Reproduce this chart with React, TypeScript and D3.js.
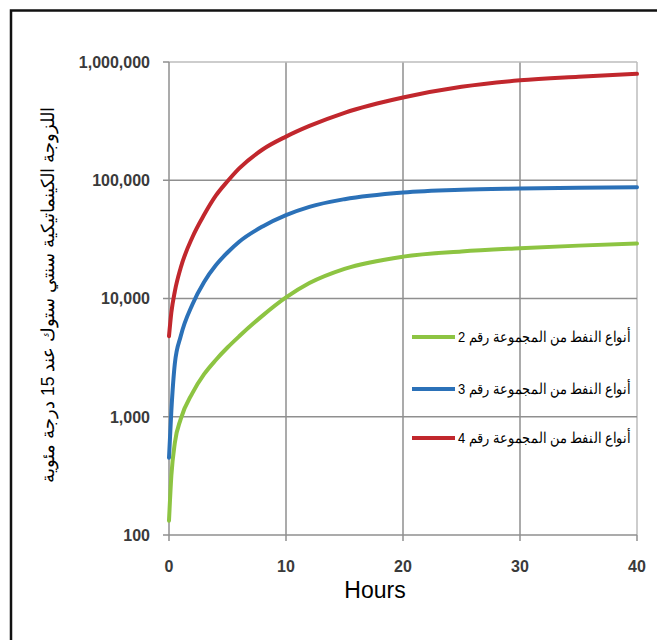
import React, { useEffect, useRef } from 'react'
import * as d3 from 'd3'

const hours = [0, 0.2, 0.5, 1, 2, 3, 4, 5, 6, 8, 10, 12, 15, 20, 25, 30, 35, 40]
const group2 = [132, 316, 603, 955, 1585, 2290, 3020, 3850, 4790, 7160, 10200, 13500, 17800, 22600, 25000, 26600, 28000, 29200]
const group3 = [450, 1120, 2820, 4790, 8910, 13800, 19100, 24500, 30200, 40700, 50700, 59600, 69200, 78900, 83200, 85100, 86500, 87100]
const group4 = [4800, 7600, 11500, 18200, 33000, 51000, 74000, 98000, 126000, 182000, 234000, 288000, 372000, 501000, 617000, 700000, 750000, 794000]

const seriesNames = [
  'أنواع النفط من المجموعة رقم 2',
  'أنواع النفط من المجموعة رقم 3',
  'أنواع النفط من المجموعة رقم 4'
]
const seriesColors = ['#8dc442', '#2b71b8', '#c1272d']

const xTicks = [0, 10, 20, 30, 40]
const yTicks = [100, 1000, 10000, 100000, 1000000]

const yTitle = 'اللزوجة الكينماتيكية سنتي ستوك عند 15 درجة مئوية'
const xTitle = 'Hours'

const width = 657
const height = 640

function App () {
  const ref = useRef<SVGSVGElement>(null)

  useEffect(() => {
    const svg = d3.select(ref.current)
    svg.selectAll('*').remove()

    const x = d3.scaleLinear().domain([0, 40]).range([169, 637])
    const y = d3.scaleLog().domain([100, 1000000]).range([535, 62])

    // frame (only top and left edges fall inside the picture)
    svg.append('rect')
      .attr('x', 11).attr('y', 10.5)
      .attr('width', 800).attr('height', 800)
      .attr('fill', 'none').attr('stroke', '#111').attr('stroke-width', 2.5)

    const g = svg.append('g')

    // grid
    g.selectAll('.vgrid').data(xTicks.slice(1))
      .enter().append('line')
      .attr('x1', d => x(d)).attr('x2', d => x(d))
      .attr('y1', y(1000000)).attr('y2', y(100))
      .attr('stroke', d => d === 40 ? '#bdbdbd' : '#8f8f8f').attr('stroke-width', 1.5)

    g.selectAll('.hgrid').data(yTicks.slice(1))
      .enter().append('line')
      .attr('x1', x(0)).attr('x2', x(40))
      .attr('y1', d => y(d)).attr('y2', d => y(d))
      .attr('stroke', d => d === 1000000 ? '#bdbdbd' : '#8f8f8f').attr('stroke-width', 1.5)

    // axes
    g.append('line')
      .attr('x1', x(0)).attr('x2', x(0)).attr('y1', y(1000000)).attr('y2', y(100))
      .attr('stroke', '#8f8f8f').attr('stroke-width', 1.5)
    g.append('line')
      .attr('x1', x(0)).attr('x2', x(40)).attr('y1', y(100)).attr('y2', y(100))
      .attr('stroke', '#8f8f8f').attr('stroke-width', 1.5)

    g.selectAll('.ytick').data(yTicks)
      .enter().append('line')
      .attr('x1', x(0) - 6).attr('x2', x(0))
      .attr('y1', d => y(d)).attr('y2', d => y(d))
      .attr('stroke', '#8f8f8f').attr('stroke-width', 1.5)

    g.selectAll('.xtick').data(xTicks)
      .enter().append('line')
      .attr('x1', d => x(d)).attr('x2', d => x(d))
      .attr('y1', y(100)).attr('y2', y(100) + 6)
      .attr('stroke', '#8f8f8f').attr('stroke-width', 1.5)

    const fmt = d3.format(',')
    g.selectAll('.ylab').data(yTicks)
      .enter().append('text')
      .attr('x', 150).attr('y', d => y(d))
      .attr('dy', '0.36em')
      .attr('text-anchor', 'end')
      .attr('font-family', 'Liberation Sans, Arial, sans-serif')
      .attr('font-weight', 'bold')
      .attr('font-size', 16)
      .attr('fill', '#3a3a3a')
      .text(d => fmt(d))

    g.selectAll('.xlab').data(xTicks)
      .enter().append('text')
      .attr('x', d => x(d)).attr('y', 572)
      .attr('text-anchor', 'middle')
      .attr('font-family', 'Liberation Sans, Arial, sans-serif')
      .attr('font-weight', 'bold')
      .attr('font-size', 16)
      .attr('fill', '#3a3a3a')
      .text(d => d)

    g.append('text')
      .attr('x', 375).attr('y', 598)
      .attr('text-anchor', 'middle')
      .attr('font-family', 'Liberation Sans, Arial, sans-serif')
      .attr('font-size', 23)
      .attr('fill', '#000')
      .text(xTitle)

    g.append('text')
      .attr('transform', 'translate(54,295) rotate(-90)')
      .attr('text-anchor', 'middle')
      .attr('font-family', 'Liberation Sans, Arial, sans-serif')
      .attr('font-size', 17.5)
      .attr('fill', '#000')
      .text(yTitle)

    // series
    const line = d3.line<number>()
      .x((d, i) => x(hours[i]))
      .y(d => y(d))
      .curve(d3.curveMonotoneX)

    const series = [group2, group3, group4]
    series.forEach((s, i) => {
      g.append('path')
        .attr('d', line(s))
        .attr('fill', 'none')
        .attr('stroke', seriesColors[i])
        .attr('stroke-width', 4)
        .attr('stroke-linecap', 'round')
    })

    // legend
    const legendY = [337, 389, 438]
    seriesNames.forEach((name, i) => {
      g.append('line')
        .attr('x1', 412).attr('x2', 455)
        .attr('y1', legendY[i]).attr('y2', legendY[i])
        .attr('stroke', seriesColors[i]).attr('stroke-width', 4)
      g.append('text')
        .attr('x', 630).attr('y', legendY[i])
        .attr('dy', '0.35em')
        .attr('text-anchor', 'end')
        .attr('font-family', 'Liberation Sans, Arial, sans-serif')
        .attr('font-size', 15)
        .attr('textLength', 172)
        .attr('lengthAdjust', 'spacingAndGlyphs')
        .attr('fill', '#000')
        .text(name)
    })
  }, [])

  return (
    <svg
      ref={ref}
      width={width}
      height={height}
      style={{ position: 'absolute', left: 0, top: 0, background: '#fff' }}
    />
  )
}

export default App
